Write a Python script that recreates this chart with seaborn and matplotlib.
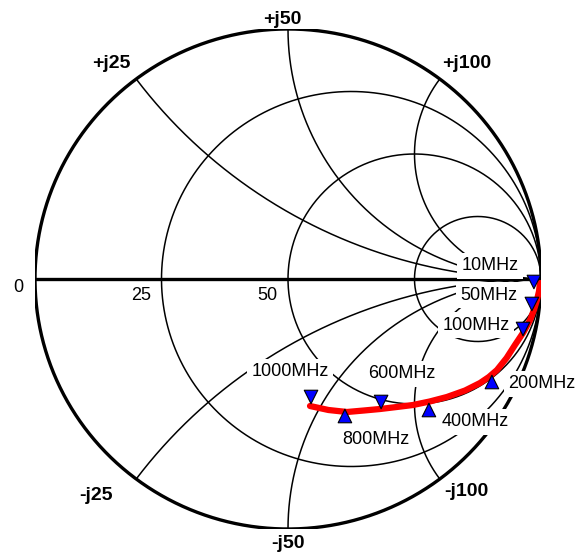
import numpy as np
import pandas as pd
import matplotlib
matplotlib.use("Agg")
import matplotlib.pyplot as plt
import seaborn as sns

# Marker frequencies and reflection coefficient
freq_labels = ["10MHz", "50MHz", "100MHz", "200MHz", "400MHz", "600MHz", "800MHz", "1000MHz"]
marker_re = [0.972, 0.964, 0.929, 0.806, 0.557, 0.368, 0.225, 0.091]
marker_im = [-0.012, -0.100, -0.200, -0.412, -0.524, -0.492, -0.548, -0.472]
marker_dir = ["down", "down", "down", "up", "up", "down", "up", "down"]

# Measured trace (red)
trace_re = [0.996, 0.992, 0.984, 0.972, 0.957, 0.930, 0.897, 0.864, 0.826, 0.794,
            0.759, 0.700, 0.628, 0.560, 0.494, 0.430, 0.364, 0.300, 0.233, 0.160, 0.087]
trace_im = [-0.016, -0.050, -0.084, -0.124, -0.164, -0.214, -0.264, -0.316, -0.364, -0.392,
            -0.416, -0.446, -0.472, -0.490, -0.504, -0.512, -0.520, -0.526, -0.532, -0.524, -0.508]

# Grid values (normalised)
res_circles = [1 / 3, 1, 3]
res_labels = ["0", "25", "50"]
react_arcs = [0.5, 1, 2]
react_labels = ["+j25", "+j50", "+j100", "-j25", "-j50", "-j100"]

sns.set_style("white")
plt.rcParams["font.family"] = ["Liberation Sans", "DejaVu Sans"]
plt.rcParams["text.color"] = "black"

fig = plt.figure(figsize=(5.84, 5.56), dpi=100)
ax = fig.add_axes([35 / 584, 27 / 556, 506 / 584, 500 / 556])

# outer circle + real axis
t = np.linspace(0, 2 * np.pi, 400)
ax.plot(np.cos(t), np.sin(t), color="black", lw=2.4, zorder=1)
ax.plot([-1, 1], [0, 0], color="black", lw=2.4, zorder=1)

# constant resistance circles
for r in res_circles:
    c, rad = r / (1 + r), 1 / (1 + r)
    ax.plot(c + rad * np.cos(t), rad * np.sin(t), color="black", lw=1.1, zorder=1)

# constant reactance arcs
rr = np.concatenate([[0], np.geomspace(1e-3, 1e4, 1500)])
for x in react_arcs:
    for s in (1, -1):
        z = rr + 1j * s * x
        g = (z - 1) / (z + 1)
        ax.plot(g.real, g.imag, color="black", lw=1.1, zorder=1)

# axis labels
for lab, pos in zip(res_labels, [(-1.067, -0.036), (-0.581, -0.064), (-0.083, -0.064)]):
    ax.text(pos[0], pos[1], lab, fontsize=13, ha="center", va="center")

react_pos = [(-0.70, 0.86), (-0.024, 1.040), (0.707, 0.86),
             (-0.759, -0.864), (0.0, -1.056), (0.707, -0.852)]
for lab, pos in zip(react_labels, react_pos):
    ax.text(pos[0], pos[1], lab, fontsize=14, fontweight="bold", ha="center", va="center")

# frequency labels with white boxes hiding the grid
label_pos = [(0.798, 0.052), (0.794, -0.064), (0.743, -0.184), (1.004, -0.420),
             (0.739, -0.572), (0.451, -0.380), (0.348, -0.644), (0.008, -0.372)]
for lab, pos in zip(freq_labels, label_pos):
    ax.text(pos[0], pos[1], lab, fontsize=13, ha="center", va="center", zorder=3,
            bbox=dict(fc="white", ec="none", pad=3))

trace = pd.DataFrame({"re": trace_re, "im": trace_im})
sns.lineplot(data=trace, x="re", y="im", sort=False, color="#ff0000", lw=4.5,
             ax=ax, zorder=4)

markers = pd.DataFrame({"re": marker_re, "im": marker_im, "dir": marker_dir})
sns.scatterplot(data=markers, x="re", y="im", style="dir",
                markers={"down": "v", "up": "^"}, color="#0000ff",
                edgecolor="black", linewidth=0.8, s=95, legend=False, ax=ax, zorder=5)

ax.set_xlim(-1, 1)
ax.set_ylim(-1, 1)
ax.axis("off")
fig.savefig("out.png", dpi=100)
